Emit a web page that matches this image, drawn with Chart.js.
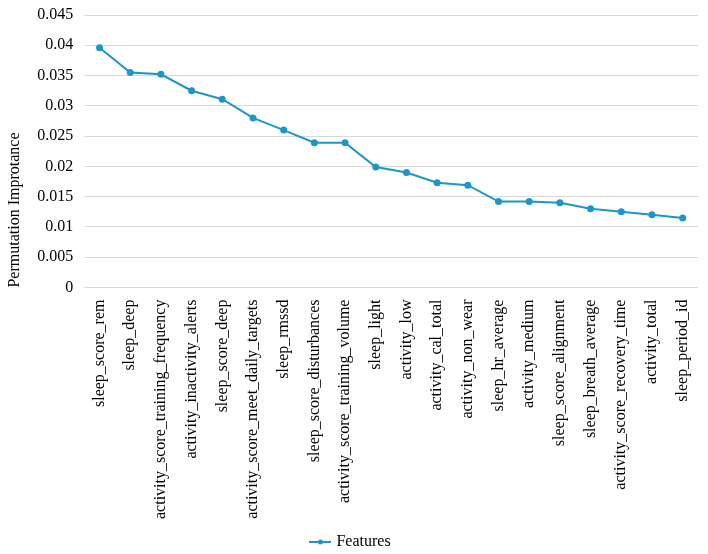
<!DOCTYPE html>
<html>
<head>
<meta charset="utf-8">
<script src="https://cdn.jsdelivr.net/npm/chart.js@4.4.1/dist/chart.umd.min.js"></script>
<style>
  html, body { margin: 0; padding: 0; background: #fff; }
  #wrap { width: 708px; height: 554px; }
</style>
</head>
<body>
<div id="wrap"><canvas id="myChart"></canvas></div>
<script>
// feature names, in order of importance
const features = [
  'sleep_score_rem', 'sleep_deep', 'activity_score_training_frequency',
  'activity_inactivity_alerts', 'sleep_score_deep', 'activity_score_meet_daily_targets',
  'sleep_rmssd', 'sleep_score_disturbances', 'activity_score_training_volume',
  'sleep_light', 'activity_low', 'activity_cal_total', 'activity_non_wear',
  'sleep_hr_average', 'activity_medium', 'sleep_score_alignment',
  'sleep_breath_average', 'activity_score_recovery_time', 'activity_total', 'sleep_period_id'
];
const importance = [
  0.0396, 0.0355, 0.0352, 0.0325, 0.0311, 0.0280, 0.0260, 0.0239, 0.0239,
  0.0199, 0.0190, 0.0173, 0.0169, 0.0142, 0.0142, 0.0140,
  0.0130, 0.0125, 0.0120, 0.0115
];
const yTicks = [0, 0.005, 0.01, 0.015, 0.02, 0.025, 0.03, 0.035, 0.04, 0.045];

const blue = '#1E96C8';
const font = "'Liberation Serif', 'Times New Roman', serif";

// little line+dot marker for the legend
const marker = document.createElement('canvas');
marker.width = 22; marker.height = 8;
const m = marker.getContext('2d');
m.strokeStyle = blue; m.lineWidth = 2;
m.beginPath(); m.moveTo(0, 4); m.lineTo(22, 4); m.stroke();
m.fillStyle = blue;
m.beginPath(); m.arc(11, 4, 2.5, 0, Math.PI * 2); m.fill();

const ctx = document.getElementById('myChart');

new Chart(ctx, {
  type: 'line',
  data: {
    labels: features,
    datasets: [{
      label: 'Features',
      data: importance,
      borderColor: blue,
      backgroundColor: blue,
      borderWidth: 2,
      pointRadius: 2.5,
      pointHoverRadius: 2.5,
      tension: 0
    }]
  },
  options: {
    responsive: true,
    maintainAspectRatio: false,
    animation: false,
    layout: { padding: { left: 5, right: 10, top: 0, bottom: -6 } },
    plugins: {
      tooltip: { enabled: false },
      legend: {
        position: 'bottom',
        labels: {
          color: '#000',
          font: { family: font, size: 16 },
          usePointStyle: true,
          padding: 2,
          generateLabels: chart => chart.data.datasets.map((ds, i) => ({
            text: ds.label,
            pointStyle: marker,
            fillStyle: blue,
            strokeStyle: blue,
            lineWidth: 0,
            datasetIndex: i,
            fontColor: '#000'
          }))
        }
      }
    },
    scales: {
      x: {
        offset: true,
        grid: { display: false },
        border: { display: false },
        afterFit: axis => { axis.height += 9; },
        ticks: {
          color: '#000',
          font: { family: font, size: 16 },
          maxRotation: 90,
          minRotation: 90,
          autoSkip: false,
          padding: 4
        }
      },
      y: {
        min: 0,
        max: 0.045,
        afterBuildTicks: axis => { axis.ticks = yTicks.map(v => ({ value: v })); },
        afterFit: axis => { axis.paddingTop = 15; },
        grid: { color: '#d9d9d9', drawTicks: false, lineWidth: 1 },
        border: { display: false },
        title: {
          display: true,
          text: 'Permutation Improtance',
          align: 'start',
          color: '#000',
          font: { family: font, size: 16 },
          padding: { top: 0, bottom: 2 }
        },
        ticks: {
          color: '#000',
          font: { family: font, size: 16 },
          padding: 11,
          callback: v => String(v)
        }
      }
    }
  }
});
</script>
</body>
</html>
